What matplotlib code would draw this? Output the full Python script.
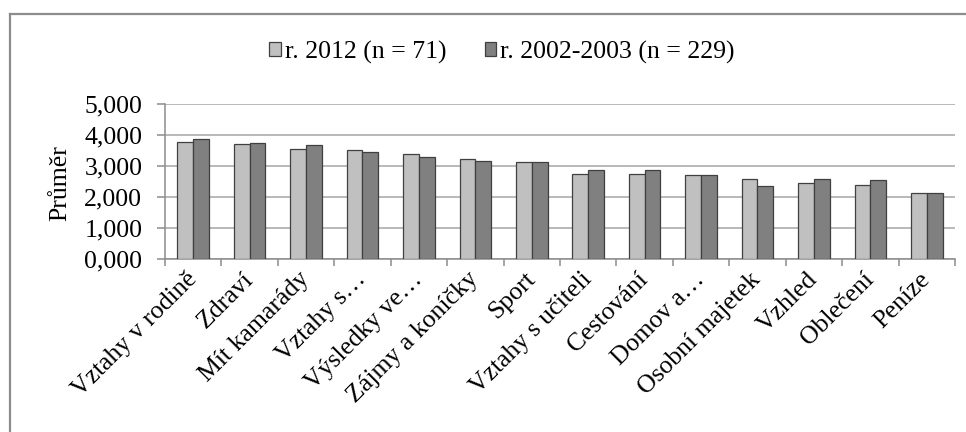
import matplotlib.pyplot as plt
import numpy as np
from matplotlib.lines import Line2D
from matplotlib.patches import Patch

plt.rcParams["font.family"] = ["Liberation Serif", "DejaVu Serif"]

categories = [
    "Vztahy v rodině",
    "Zdraví",
    "Mít kamarády",
    "Vztahy s…",
    "Výsledky ve…",
    "Zájmy a koníčky",
    "Sport",
    "Vztahy s učiteli",
    "Cestování",
    "Domov a…",
    "Osobní majetek",
    "Vzhled",
    "Oblečení",
    "Peníze",
]
values_2012 = [3.79, 3.72, 3.55, 3.52, 3.39, 3.23, 3.14, 2.76, 2.76, 2.72, 2.60, 2.47, 2.40, 2.14]
values_2002 = [3.88, 3.76, 3.68, 3.47, 3.30, 3.18, 3.14, 2.89, 2.89, 2.72, 2.35, 2.60, 2.57, 2.14]
series_labels = ["r. 2012 (n = 71)", "r. 2002-2003 (n = 229)"]
yticks = [0, 1, 2, 3, 4, 5]

light = "#c0c0c0"
dark = "#808080"
edge = "#404040"
axis_grey = "#8c8c8c"
fs = 18.5

fig = plt.figure(figsize=(9.66, 4.32), dpi=100)
ax = fig.add_axes([165 / 966, 1 - 259.3 / 432, 790 / 966, 155 / 432])

x = np.arange(len(categories)) + 0.5
w = 0.28
ax.bar(x - w / 2, values_2012, w, color=light, edgecolor=edge, linewidth=0.9, zorder=3)
ax.bar(x + w / 2, values_2002, w, color=dark, edgecolor=edge, linewidth=0.9, zorder=3)

ax.set_xlim(0, len(categories))
ax.set_ylim(0, 5)

# gridlines and axes in the spreadsheet look
ax.set_yticks(yticks)
ax.set_yticklabels([f"{v:.3f}".replace(".", ",") for v in yticks], fontsize=fs)
ax.yaxis.grid(True, color="#a6a6a6", linewidth=1.1, zorder=0)
ax.set_axisbelow(True)
for side in ["top", "right"]:
    ax.spines[side].set_visible(False)
for side in ["left", "bottom"]:
    ax.spines[side].set_color(axis_grey)
    ax.spines[side].set_linewidth(1.1)
ax.tick_params(axis="y", length=5.8, width=1.1, color=axis_grey, pad=10.5)

ax.set_xticks(x)
ax.set_xticklabels(categories, fontsize=fs, rotation=45, ha="right",
                   va="center", rotation_mode="anchor")
ax.set_xticks(np.arange(len(categories) + 1), minor=True)
ax.tick_params(axis="x", which="major", length=0, pad=12)
ax.tick_params(axis="x", which="minor", length=5, width=1.1, color=axis_grey)

fig.text(60 / 966, 1 - 183 / 432, "Průměr", rotation=90, ha="center",
         va="center", fontsize=fs)

handles = [
    Patch(facecolor=light, edgecolor=edge, linewidth=0.9),
    Patch(facecolor=dark, edgecolor=edge, linewidth=0.9),
]
fig.legend(handles, series_labels, loc="center",
           bbox_to_anchor=(502 / 966, 1 - 52 / 432), ncol=2, frameon=False,
           fontsize=fs, handlelength=0.45, handleheight=0.48,
           handletextpad=0.15, columnspacing=1.5)

# chart frame
fig.add_artist(Line2D([10 / 966, 10 / 966], [0, 1 - 14 / 432],
                      transform=fig.transFigure, color=axis_grey, linewidth=1.6))
fig.add_artist(Line2D([10 / 966, 1], [1 - 14 / 432, 1 - 14 / 432],
                      transform=fig.transFigure, color=axis_grey, linewidth=1.6))

fig.savefig("out.png", dpi=100)
